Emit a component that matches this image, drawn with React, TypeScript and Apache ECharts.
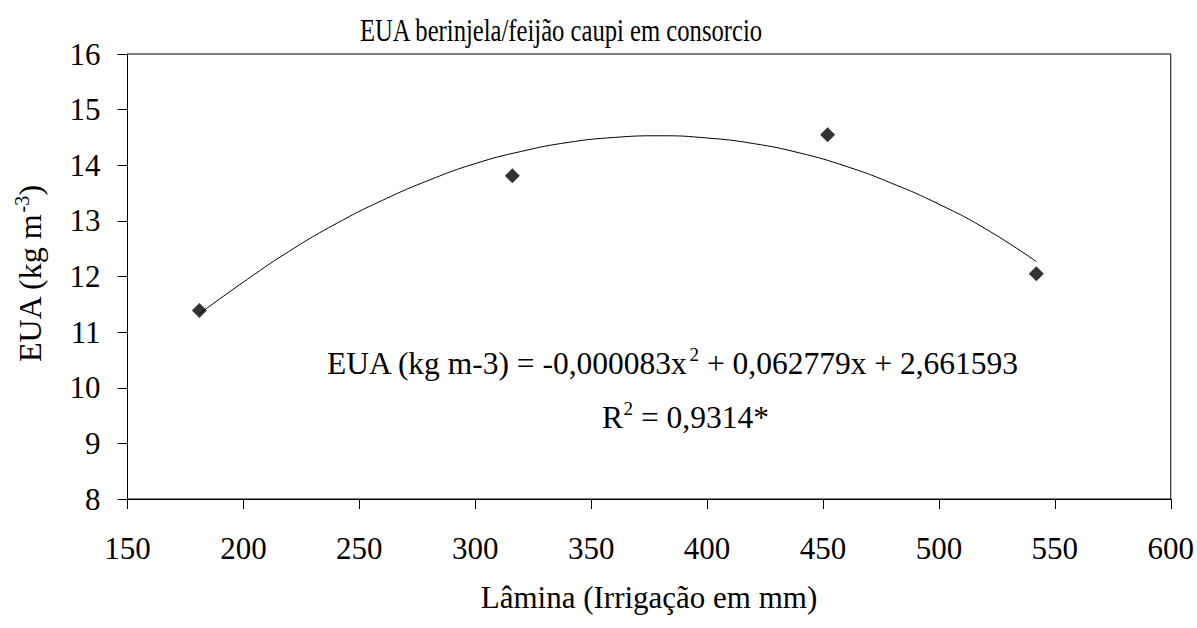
import React, { useEffect, useRef } from "react";
import * as echarts from "echarts";

const titleText = "EUA berinjela/feijão caupi em consorcio";
const xAxisTitle = "Lâmina (Irrigação em mm)";
const yTitleMain = "EUA (kg m";
const yTitleSup = "-3";
const yTitleEnd = ")";
const eqPart1 = "EUA (kg m-3) = -0,000083x";
const eqSup = "2";
const eqPart2 = " + 0,062779x + 2,661593";
const r2Part1 = "R";
const r2Sup = "2";
const r2Part2 = " = 0,9314*";

const xMin = 150;
const xMax = 600;
const xStep = 50;
const yMin = 8;
const yMax = 16;
const yStep = 1;

const pointX = [181, 316, 452, 542];
const pointY = [11.39, 13.81, 14.55, 12.05];

const curveX = [181, 200, 220, 240, 260, 280, 300, 320, 340, 360, 380, 400, 420, 440, 460, 480, 500, 520, 542];
const curveY = [11.33, 11.9, 12.46, 12.95, 13.37, 13.73, 14.03, 14.25, 14.41, 14.5, 14.53, 14.49, 14.39, 14.22, 13.98, 13.67, 13.3, 12.86, 12.27];

const FAM = '"Liberation Serif", "Times New Roman", serif';
const f = (size: number) => `${size}px ${FAM}`;

export default function App() {
  const ref = useRef<HTMLDivElement>(null);

  useEffect(() => {
    if (!ref.current) return;
    const chart = echarts.init(ref.current, null, { renderer: "svg" });
    const scatterData = pointX.map((x, i) => [x, pointY[i]]);
    const curveData = curveX.map((x, i) => [x, curveY[i]]);
    chart.setOption({
      animation: false,
      grid: {
        left: 127.5,
        right: 26,
        top: 54,
        bottom: 129,
        show: true,
        borderColor: "#000",
        borderWidth: 1,
      },
      xAxis: {
        type: "value",
        min: xMin,
        max: xMax,
        interval: xStep,
        axisLine: { show: true, lineStyle: { color: "#000", width: 1 } },
        axisTick: { show: true, inside: false, length: 10, lineStyle: { color: "#000" } },
        splitLine: { show: false },
        axisLabel: { color: "#000", fontSize: 31, fontFamily: "serif", margin: 34 },
      },
      yAxis: {
        type: "value",
        min: yMin,
        max: yMax,
        interval: yStep,
        axisLine: { show: true, lineStyle: { color: "#000", width: 1 } },
        axisTick: { show: true, inside: false, length: 10, lineStyle: { color: "#000" } },
        splitLine: { show: false },
        axisLabel: { color: "#000", fontSize: 31, fontFamily: "serif", margin: 27 },
      },
      series: [
        {
          type: "line",
          data: curveData,
          smooth: true,
          showSymbol: false,
          symbol: "none",
          lineStyle: { color: "#000", width: 1 },
          z: 2,
        },
        {
          type: "scatter",
          data: scatterData,
          symbol: "diamond",
          symbolSize: [15, 15],
          itemStyle: { color: "#000" },
          z: 3,
        },
      ],
      graphic: [
        {
          type: "text",
          x: 561,
          y: 30,
          scaleX: 0.77,
          style: { text: titleText, font: f(32), fill: "#000", align: "center", verticalAlign: "middle" },
        },
        {
          type: "text",
          x: 649,
          y: 597,
          style: { text: xAxisTitle, font: f(31), fill: "#000", align: "center", verticalAlign: "middle" },
        },
        {
          type: "group",
          x: 30,
          y: 274,
          rotation: Math.PI / 2,
          children: [
            { type: "text", x: -88, y: 0, style: { text: yTitleMain, font: f(32), fill: "#000", align: "left", verticalAlign: "middle" } },
            { type: "text", x: 61.5, y: -18, style: { text: yTitleSup, font: f(20), fill: "#000", align: "left", verticalAlign: "top" } },
            { type: "text", x: 78.5, y: 0, style: { text: yTitleEnd, font: f(32), fill: "#000", align: "left", verticalAlign: "middle" } },
          ],
        },
        {
          type: "group",
          x: 327,
          y: 363,
          children: [
            { type: "text", x: 0, y: 0, style: { text: eqPart1, font: f(31.5), fill: "#000", align: "left", verticalAlign: "middle" } },
            { type: "text", x: 362.5, y: -18, style: { text: eqSup, font: f(19), fill: "#000", align: "left", verticalAlign: "top" } },
            { type: "text", x: 372, y: 0, style: { text: eqPart2, font: f(31.5), fill: "#000", align: "left", verticalAlign: "middle" } },
          ],
        },
        {
          type: "group",
          x: 602,
          y: 417,
          children: [
            { type: "text", x: 0, y: 0, style: { text: r2Part1, font: f(31.5), fill: "#000", align: "left", verticalAlign: "middle" } },
            { type: "text", x: 21.5, y: -18, style: { text: r2Sup, font: f(19), fill: "#000", align: "left", verticalAlign: "top" } },
            { type: "text", x: 31, y: 0, style: { text: r2Part2, font: f(31.5), fill: "#000", align: "left", verticalAlign: "middle" } },
          ],
        },
      ],
    });
    return () => chart.dispose();
  }, []);

  return (
    <div
      ref={ref}
      style={{
        position: "fixed",
        left: 0,
        top: 0,
        width: 1197,
        height: 628,
        background: "#fff",
        fontFamily: '"Liberation Serif", "Times New Roman", serif',
      }}
    />
  );
}
